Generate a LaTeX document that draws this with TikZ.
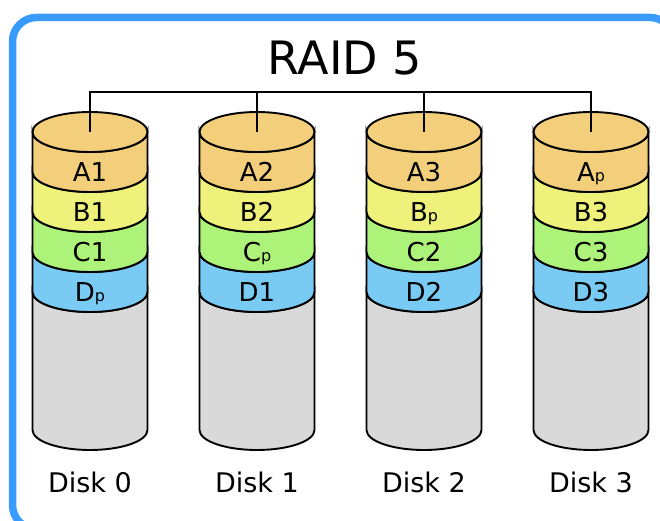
\documentclass[tikz,border=0pt]{standalone}
\usepackage{fontspec}
\setmainfont{DejaVu Sans}

\definecolor{frameblue}{HTML}{3A9BFF}
\definecolor{bandA}{HTML}{F3CF7B}
\definecolor{bandB}{HTML}{EEF27A}
\definecolor{bandC}{HTML}{ADF37A}
\definecolor{bandD}{HTML}{7ACBF3}
\definecolor{bodygray}{HTML}{D9D9D9}

\tikzset{
  diskline/.style={draw=black, line width=1.9pt},
  busline/.style={draw=black, line width=1.6pt},
  bandlabel/.style={anchor=base, inner sep=0pt, font=\fontsize{26}{26}\selectfont},
  disklabel/.style={anchor=base, inner sep=0pt, font=\fontsize{27}{27}\selectfont}
}
\newcommand{\pty}[1]{#1{\fontsize{16}{16}\selectfont p}}

\begin{document}
\begin{tikzpicture}[x=1pt,y=1pt]
\useasboundingbox (0,0) rectangle (660,521);
\clip (0,0) rectangle (660,521);

% frame
\draw[frameblue, line width=7.5pt, rounded corners=24pt] (12.5,-8) rectangle (674,503.5);

\node[anchor=base, inner sep=0pt, font=\fontsize{46}{46}\selectfont] (title) at (345,446) {RAID 5};

\foreach \i/\la/\lb/\lc/\ld in {0/A1/B1/C1/\pty{D}, 1/A2/B2/\pty{C}/D1, 2/A3/\pty{B}/C2/D2, 3/\pty{A}/B3/C3/D3} {
  \pgfmathsetmacro{\cx}{90+167*\i}
  % body
  \filldraw[fill=bodygray, diskline] (\cx-57.5,229) arc[start angle=180, end angle=360, x radius=57.5, y radius=20]
    -- (\cx+57.5,91) arc[start angle=0, end angle=-180, x radius=57.5, y radius=20] -- cycle;
  % bands
  \foreach \yt/\col in {269/bandD, 309/bandC, 349/bandB, 389/bandA} {
    \filldraw[fill=\col, diskline] (\cx-57.5,\yt) arc[start angle=180, end angle=360, x radius=57.5, y radius=20]
      -- (\cx+57.5,\yt-40) arc[start angle=0, end angle=-180, x radius=57.5, y radius=20] -- cycle;
  }
  \filldraw[fill=bandA, diskline] (\cx,389) ellipse[x radius=57.5, y radius=20];
  \coordinate (top\i) at (\cx,389);
  \node[bandlabel] (a\i) at (\cx,339) {\la};
  \node[bandlabel] (b\i) at (\cx,299) {\lb};
  \node[bandlabel] (c\i) at (\cx,259) {\lc};
  \node[bandlabel] (d\i) at (\cx,219) {\ld};
  \node[disklabel] (disk\i) at (\cx,28) {Disk \i};
}

% bus
\coordinate (bus) at (0,429);
\draw[busline] (top0) -- (top0 |- bus) -- (top3 |- bus) -- (top3);
\draw[busline] (top1) -- (top1 |- bus);
\draw[busline] (top2) -- (top2 |- bus);

\end{tikzpicture}
\end{document}
